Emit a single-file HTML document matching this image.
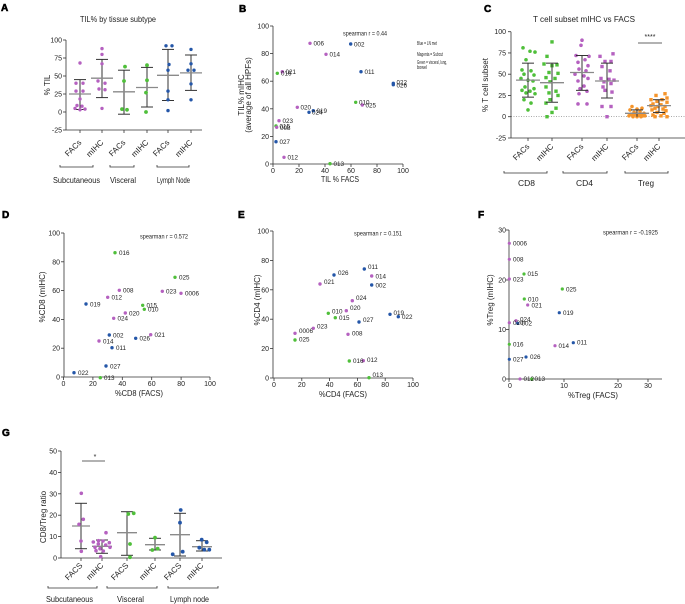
<!DOCTYPE html>
<html><head><meta charset="utf-8">
<style>
html,body{margin:0;padding:0;background:#fff;}
svg{display:block;font-family:"Liberation Sans",Arial,sans-serif;}
.ax{stroke:#333;stroke-width:0.8;fill:none;}
.t{font-size:7px;fill:#222;}
.pl{font-size:6.3px;fill:#222;}
.lt{font-size:8px;fill:#222;}
.pn{font-size:10px;font-weight:bold;fill:#000;stroke:#000;stroke-width:0.6;}
.sd{stroke:#333;stroke-width:1;}
.mn{stroke:#8a8a8a;stroke-width:1.3;}
.m{fill:#b561c0;} .g{fill:#4fbf3a;} .b{fill:#2456a8;} .o{fill:#f5942a;}
</style></head>
<body>
<svg width="685" height="604" viewBox="0 0 685 604" xmlns="http://www.w3.org/2000/svg">
<rect width="685" height="604" fill="#fff"/>

<!-- ================= PANEL A ================= -->
<text class="pn" x="1" y="11">A</text>
<text class="lt" x="80" y="22" textLength="76" lengthAdjust="spacingAndGlyphs">TIL% by tissue subtype</text>
<text class="lt" transform="translate(50,85) rotate(-90)" text-anchor="middle">% TIL</text>
<g class="ax">
<line x1="66" y1="40" x2="66" y2="130"/>
<line x1="66" y1="130" x2="202" y2="130"/>
<line x1="63" y1="40" x2="66" y2="40"/><line x1="63" y1="58" x2="66" y2="58"/><line x1="63" y1="76" x2="66" y2="76"/>
<line x1="63" y1="94" x2="66" y2="94"/><line x1="63" y1="112" x2="66" y2="112"/><line x1="63" y1="130" x2="66" y2="130"/>
<line x1="80" y1="130" x2="80" y2="133"/><line x1="102" y1="130" x2="102" y2="133"/><line x1="124" y1="130" x2="124" y2="133"/>
<line x1="147" y1="130" x2="147" y2="133"/><line x1="168" y1="130" x2="168" y2="133"/><line x1="191" y1="130" x2="191" y2="133"/>
</g>
<g class="t" text-anchor="end">
<text x="62" y="42.5">100</text><text x="62" y="60.5">75</text><text x="62" y="78.5">50</text>
<text x="62" y="96.5">25</text><text x="62" y="114.5">0</text><text x="62" y="132.5">-25</text>
</g>
<g class="lt" text-anchor="end">
<text transform="translate(82,143) rotate(-45)">FACs</text>
<text transform="translate(104,143) rotate(-45)">mIHC</text>
<text transform="translate(126,143) rotate(-45)">FACs</text>
<text transform="translate(149,143) rotate(-45)">mIHC</text>
<text transform="translate(170,143) rotate(-45)">FACs</text>
<text transform="translate(193,143) rotate(-45)">mIHC</text>
</g>
<g class="ax">
<path d="M60,165 V167 H93 V165"/><path d="M110,165 V167 H134 V165"/><path d="M157,165 V167 H189 V165"/>
</g>
<g class="lt">
<text x="53" y="183" textLength="47" lengthAdjust="spacingAndGlyphs">Subcutaneous</text>
<text x="110" y="183" textLength="26" lengthAdjust="spacingAndGlyphs">Visceral</text>
<text x="157" y="183" textLength="33" lengthAdjust="spacingAndGlyphs">Lymph Node</text>
</g>
<!-- A stats -->
<g>
<line class="sd" x1="80" y1="79.6" x2="80" y2="109.5"/><line class="sd" x1="74" y1="79.6" x2="86" y2="79.6"/><line class="sd" x1="74" y1="109.5" x2="86" y2="109.5"/>
<line class="sd" x1="102" y1="59.4" x2="102" y2="97.6"/><line class="sd" x1="96" y1="59.4" x2="108" y2="59.4"/><line class="sd" x1="96" y1="97.6" x2="108" y2="97.6"/>
<line class="sd" x1="124" y1="70.2" x2="124" y2="114.2"/><line class="sd" x1="118" y1="70.2" x2="130" y2="70.2"/><line class="sd" x1="118" y1="114.2" x2="130" y2="114.2"/>
<line class="sd" x1="147" y1="67.4" x2="147" y2="107"/><line class="sd" x1="141" y1="67.4" x2="153" y2="67.4"/><line class="sd" x1="141" y1="107" x2="153" y2="107"/>
<line class="sd" x1="168" y1="49.4" x2="168" y2="100.5"/><line class="sd" x1="162" y1="49.4" x2="174" y2="49.4"/><line class="sd" x1="162" y1="100.5" x2="174" y2="100.5"/>
<line class="sd" x1="191" y1="55" x2="191" y2="90.4"/><line class="sd" x1="185" y1="55" x2="197" y2="55"/><line class="sd" x1="185" y1="90.4" x2="197" y2="90.4"/>
<line class="mn" x1="69" y1="94" x2="91" y2="94"/><line class="mn" x1="91" y1="78.2" x2="113" y2="78.2"/>
<line class="mn" x1="113" y1="91.8" x2="135" y2="91.8"/><line class="mn" x1="136" y1="87.5" x2="158" y2="87.5"/>
<line class="mn" x1="157" y1="75.3" x2="179" y2="75.3"/><line class="mn" x1="180" y1="72.9" x2="202" y2="72.9"/>
</g>
<g class="m">
<circle cx="80" cy="63" r="1.7"/><circle cx="76" cy="83.2" r="1.7"/><circle cx="83" cy="83.2" r="1.7"/><circle cx="76" cy="91.1" r="1.7"/><circle cx="83" cy="91.1" r="1.7"/><circle cx="80" cy="99" r="1.7"/><circle cx="77" cy="105.5" r="1.7"/><circle cx="82" cy="106.2" r="1.7"/><circle cx="75" cy="108.4" r="1.7"/><circle cx="85" cy="109.1" r="1.7"/><circle cx="80" cy="109.8" r="1.7"/>
<circle cx="102" cy="48.6" r="1.7"/><circle cx="102" cy="54.4" r="1.7"/><circle cx="102" cy="63.8" r="1.7"/><circle cx="98" cy="81" r="1.7"/><circle cx="105" cy="83.2" r="1.7"/><circle cx="99" cy="89" r="1.7"/><circle cx="105" cy="89.7" r="1.7"/><circle cx="102" cy="108.4" r="1.7"/>
</g>
<g class="g">
<circle cx="125" cy="66.6" r="1.9"/><circle cx="124" cy="81" r="1.9"/><circle cx="122" cy="109.1" r="1.9"/><circle cx="127" cy="109.8" r="1.9"/>
<circle cx="147" cy="65.2" r="1.9"/><circle cx="147" cy="80.3" r="1.9"/><circle cx="146" cy="92.6" r="1.9"/><circle cx="146" cy="112" r="1.9"/>
</g>
<g class="b">
<circle cx="166" cy="45.8" r="1.7"/><circle cx="172" cy="45.8" r="1.7"/><circle cx="169" cy="64.5" r="1.7"/><circle cx="168" cy="70.2" r="1.7"/><circle cx="168" cy="91.1" r="1.7"/><circle cx="168" cy="99.8" r="1.7"/><circle cx="168" cy="110.6" r="1.7"/>
<circle cx="191" cy="49.4" r="1.7"/><circle cx="191" cy="63.8" r="1.7"/><circle cx="188" cy="70.2" r="1.7"/><circle cx="194" cy="70.2" r="1.7"/><circle cx="191" cy="83.9" r="1.7"/><circle cx="191" cy="99.8" r="1.7"/>
</g>

<!-- ================= PANEL B ================= -->
<text class="pn" x="239" y="12">B</text>
<text class="lt" transform="translate(244,95) rotate(-90)" text-anchor="middle">TIL% mIHC</text>
<text class="lt" transform="translate(251,95) rotate(-90)" text-anchor="middle">(average of all HPFs)</text>
<g class="ax">
<line x1="273" y1="26" x2="273" y2="164"/><line x1="273" y1="164" x2="403" y2="164"/>
<line x1="270" y1="26" x2="273" y2="26"/><line x1="270" y1="53.6" x2="273" y2="53.6"/><line x1="270" y1="81.2" x2="273" y2="81.2"/><line x1="270" y1="108.8" x2="273" y2="108.8"/><line x1="270" y1="136.4" x2="273" y2="136.4"/><line x1="270" y1="164" x2="273" y2="164"/>
<line x1="273" y1="164" x2="273" y2="167"/><line x1="299" y1="164" x2="299" y2="167"/><line x1="325" y1="164" x2="325" y2="167"/><line x1="351" y1="164" x2="351" y2="167"/><line x1="377" y1="164" x2="377" y2="167"/><line x1="403" y1="164" x2="403" y2="167"/>
</g>
<g class="t" text-anchor="end">
<text x="269" y="28.5">100</text><text x="269" y="56">80</text><text x="269" y="83.7">60</text><text x="269" y="111.3">40</text><text x="269" y="139">20</text><text x="269" y="166.5">0</text>
</g>
<g class="t" text-anchor="middle">
<text x="273" y="173">0</text><text x="299" y="173">20</text><text x="325" y="173">40</text><text x="351" y="173">60</text><text x="377" y="173">80</text><text x="403" y="173">100</text>
</g>
<text class="lt" x="321" y="182" textLength="38" lengthAdjust="spacingAndGlyphs">TIL % FACS</text>
<text class="pl" x="343" y="35.5" textLength="44" lengthAdjust="spacingAndGlyphs">spearman r = 0.44</text>
<g style="font-size:5.5px;fill:#222">
<text x="417" y="45" textLength="20" lengthAdjust="spacingAndGlyphs">Blue = LN met</text>
<text x="417" y="56" textLength="26" lengthAdjust="spacingAndGlyphs">Magenta = Subcut</text>
<text x="417" y="64" textLength="30" lengthAdjust="spacingAndGlyphs">Green = visceral, lung,</text>
<text x="417" y="69" textLength="10" lengthAdjust="spacingAndGlyphs">bowel</text>
</g>
<g>
<circle class="m" cx="310" cy="43.3" r="1.7"/><circle class="b" cx="350.7" cy="44" r="1.7"/><circle class="m" cx="326" cy="54.3" r="1.7"/>
<circle class="g" cx="277.3" cy="73.3" r="1.7"/><circle class="m" cx="282.3" cy="71.7" r="1.7"/><circle class="b" cx="361" cy="71.7" r="1.7"/>
<circle class="b" cx="393.3" cy="83.3" r="1.7"/><circle class="b" cx="393.3" cy="84.7" r="1.7"/>
<circle class="g" cx="355.7" cy="102.3" r="1.7"/><circle class="m" cx="362.3" cy="105" r="1.7"/><circle class="m" cx="297.3" cy="107.3" r="1.7"/>
<circle class="b" cx="313.3" cy="110.7" r="1.7"/><circle class="b" cx="309" cy="112.3" r="1.7"/>
<circle class="m" cx="279" cy="120.7" r="1.7"/><circle class="g" cx="276" cy="126" r="1.7"/><circle class="m" cx="276.7" cy="127.3" r="1.7"/>
<circle class="b" cx="276" cy="141.7" r="1.7"/><circle class="m" cx="284" cy="157.3" r="1.7"/><circle class="g" cx="330" cy="163.7" r="1.7"/>
</g>
<g class="pl">
<text x="313.5" y="45.5">006</text><text x="354" y="46.3">002</text><text x="329.5" y="56.6">014</text>
<text x="281" y="75.6">016</text><text x="285.5" y="74">021</text><text x="364.5" y="74">011</text>
<text x="396.5" y="84.5">022</text><text x="396.5" y="87.5">026</text>
<text x="359" y="104.6">010</text><text x="365.5" y="107.3">025</text><text x="300.5" y="109.6">020</text>
<text x="316.5" y="113">019</text><text x="312" y="114.6">024</text>
<text x="282.5" y="123">023</text><text x="279.5" y="128.3">015</text><text x="280" y="130">008</text>
<text x="279.5" y="144">027</text><text x="287.5" y="159.6">012</text><text x="333.5" y="166">013</text>
</g>

<!-- ================= PANEL C ================= -->
<text class="pn" x="484" y="12">C</text>
<text class="lt" x="533" y="22" textLength="102" lengthAdjust="spacingAndGlyphs">T cell subset mIHC vs FACS</text>
<text class="lt" transform="translate(488,85) rotate(-90)" text-anchor="middle">% T cell subset</text>
<line x1="511" y1="116.7" x2="685" y2="116.7" stroke="#777" stroke-width="0.6" stroke-dasharray="1,1.5"/>
<g class="ax">
<line x1="511" y1="31.7" x2="511" y2="138"/><line x1="511" y1="138" x2="685" y2="138"/>
<line x1="508" y1="31.7" x2="511" y2="31.7"/><line x1="508" y1="52.95" x2="511" y2="52.95"/><line x1="508" y1="74.2" x2="511" y2="74.2"/><line x1="508" y1="95.45" x2="511" y2="95.45"/><line x1="508" y1="116.7" x2="511" y2="116.7"/><line x1="508" y1="138" x2="511" y2="138"/>
<line x1="528" y1="138" x2="528" y2="141"/><line x1="552" y1="138" x2="552" y2="141"/><line x1="582" y1="138" x2="582" y2="141"/><line x1="607" y1="138" x2="607" y2="141"/><line x1="637" y1="138" x2="637" y2="141"/><line x1="659" y1="138" x2="659" y2="141"/>
</g>
<g class="t" text-anchor="end">
<text x="506" y="34.2">100</text><text x="506" y="55.5">75</text><text x="506" y="76.7">50</text><text x="506" y="98">25</text><text x="506" y="119.2">0</text><text x="506" y="140.5">-25</text>
</g>
<g class="lt" text-anchor="end">
<text transform="translate(530,147) rotate(-45)">FACs</text>
<text transform="translate(554,147) rotate(-45)">mIHC</text>
<text transform="translate(584,147) rotate(-45)">FACs</text>
<text transform="translate(609,147) rotate(-45)">mIHC</text>
<text transform="translate(639,147) rotate(-45)">FACs</text>
<text transform="translate(661,147) rotate(-45)">mIHC</text>
</g>
<g class="ax">
<path d="M504,171 V173 H547 V171"/><path d="M563,171 V173 H607 V171"/><path d="M625,171 V173 H668 V171"/>
<line x1="638" y1="43" x2="662" y2="43"/>
</g>
<text class="t" x="650" y="39" text-anchor="middle">****</text>
<g class="lt" style="font-size:8.5px">
<text x="518" y="186" textLength="17" lengthAdjust="spacingAndGlyphs">CD8</text>
<text x="576" y="186" textLength="17" lengthAdjust="spacingAndGlyphs">CD4</text>
<text x="638" y="186" textLength="16" lengthAdjust="spacingAndGlyphs">Treg</text>
</g>
<!-- C points -->
<g class="g">
<circle cx="523" cy="47.85" r="1.8"/><circle cx="530" cy="51.25" r="1.8"/><circle cx="535" cy="52.1" r="1.8"/><circle cx="526" cy="59.75" r="1.8"/><circle cx="522" cy="69.95" r="1.8"/><circle cx="531" cy="70.8" r="1.8"/><circle cx="524" cy="74.2" r="1.8"/><circle cx="534" cy="75.05" r="1.8"/><circle cx="521" cy="78.45" r="1.8"/><circle cx="528" cy="80.15" r="1.8"/><circle cx="533" cy="81" r="1.8"/><circle cx="525" cy="86.95" r="1.8"/><circle cx="534" cy="88.65" r="1.8"/><circle cx="522" cy="90.35" r="1.8"/><circle cx="530" cy="91.2" r="1.8"/><circle cx="526" cy="92.9" r="1.8"/><circle cx="535" cy="93.75" r="1.8"/><circle cx="524" cy="99.7" r="1.8"/><circle cx="531" cy="103.1" r="1.8"/><circle cx="528" cy="109.9" r="1.8"/>
</g>
<g class="g">
<rect x="550.3" y="40.2" width="3.4" height="3.4"/><rect x="545.3" y="54.65" width="3.4" height="3.4"/><rect x="542.3" y="62.3" width="3.4" height="3.4"/><rect x="555.3" y="63.15" width="3.4" height="3.4"/><rect x="550.3" y="64" width="3.4" height="3.4"/><rect x="547.3" y="70.8" width="3.4" height="3.4"/><rect x="556.3" y="71.65" width="3.4" height="3.4"/><rect x="544.3" y="75.9" width="3.4" height="3.4"/><rect x="553.3" y="76.75" width="3.4" height="3.4"/><rect x="548.3" y="80.15" width="3.4" height="3.4"/><rect x="544.3" y="85.25" width="3.4" height="3.4"/><rect x="554.3" y="89.5" width="3.4" height="3.4"/><rect x="547.3" y="91.2" width="3.4" height="3.4"/><rect x="556.3" y="93.75" width="3.4" height="3.4"/><rect x="548.3" y="98" width="3.4" height="3.4"/><rect x="544.3" y="101.4" width="3.4" height="3.4"/><rect x="554.3" y="106.5" width="3.4" height="3.4"/><rect x="550.3" y="110.75" width="3.4" height="3.4"/><rect x="545.3" y="115" width="3.4" height="3.4"/>
</g>
<g class="m">
<circle cx="582" cy="40.2" r="1.8"/><circle cx="581" cy="45.3" r="1.8"/><circle cx="576" cy="55.5" r="1.8"/><circle cx="589" cy="56.35" r="1.8"/><circle cx="585" cy="59.75" r="1.8"/><circle cx="578" cy="62.3" r="1.8"/><circle cx="588" cy="65.7" r="1.8"/><circle cx="579" cy="69.1" r="1.8"/><circle cx="586" cy="70.8" r="1.8"/><circle cx="575" cy="74.2" r="1.8"/><circle cx="584" cy="75.9" r="1.8"/><circle cx="588" cy="78.45" r="1.8"/><circle cx="578" cy="81" r="1.8"/><circle cx="584" cy="86.1" r="1.8"/><circle cx="580" cy="88.65" r="1.8"/><circle cx="587" cy="91.2" r="1.8"/><circle cx="579" cy="93.75" r="1.8"/><circle cx="578" cy="103.95" r="1.8"/><circle cx="587" cy="103.95" r="1.8"/>
</g>
<g class="m">
<rect x="611.3" y="52.1" width="3.4" height="3.4"/><rect x="598.3" y="54.65" width="3.4" height="3.4"/><rect x="603.3" y="59.75" width="3.4" height="3.4"/><rect x="609.3" y="59.75" width="3.4" height="3.4"/><rect x="600.3" y="64.85" width="3.4" height="3.4"/><rect x="608.3" y="69.1" width="3.4" height="3.4"/><rect x="599.3" y="76.75" width="3.4" height="3.4"/><rect x="607.3" y="77.6" width="3.4" height="3.4"/><rect x="612.3" y="78.45" width="3.4" height="3.4"/><rect x="602.3" y="80.15" width="3.4" height="3.4"/><rect x="609.3" y="81.85" width="3.4" height="3.4"/><rect x="601.3" y="85.25" width="3.4" height="3.4"/><rect x="603.3" y="88.65" width="3.4" height="3.4"/><rect x="610.3" y="90.35" width="3.4" height="3.4"/><rect x="600.3" y="104.8" width="3.4" height="3.4"/><rect x="609.3" y="104.8" width="3.4" height="3.4"/><rect x="605.3" y="115" width="3.4" height="3.4"/>
</g>
<g class="o">
<circle cx="632" cy="106.5" r="1.8"/><circle cx="642" cy="108.2" r="1.8"/><circle cx="637" cy="109.05" r="1.8"/><circle cx="630" cy="109.9" r="1.8"/><circle cx="640" cy="111.6" r="1.8"/><circle cx="634" cy="112.45" r="1.8"/><circle cx="644" cy="113.3" r="1.8"/><circle cx="636" cy="113.3" r="1.8"/><circle cx="641" cy="114.15" r="1.8"/><circle cx="631" cy="114.15" r="1.8"/><circle cx="638" cy="115" r="1.8"/><circle cx="634" cy="115" r="1.8"/><circle cx="643" cy="115.85" r="1.8"/><circle cx="629" cy="115.85" r="1.8"/><circle cx="637" cy="116.7" r="1.8"/><circle cx="633" cy="116.7" r="1.8"/><circle cx="641" cy="116.7" r="1.8"/><circle cx="645" cy="115.85" r="1.8"/>
</g>
<g class="o">
<rect x="663.3" y="92.05" width="3.4" height="3.4"/><rect x="654.3" y="93.75" width="3.4" height="3.4"/><rect x="665.3" y="96.3" width="3.4" height="3.4"/><rect x="649.3" y="98" width="3.4" height="3.4"/><rect x="660.3" y="98" width="3.4" height="3.4"/><rect x="655.3" y="99.7" width="3.4" height="3.4"/><rect x="665.3" y="100.55" width="3.4" height="3.4"/><rect x="651.3" y="102.25" width="3.4" height="3.4"/><rect x="659.3" y="103.1" width="3.4" height="3.4"/><rect x="649.3" y="103.95" width="3.4" height="3.4"/><rect x="663.3" y="104.8" width="3.4" height="3.4"/><rect x="656.3" y="104.8" width="3.4" height="3.4"/><rect x="653.3" y="106.5" width="3.4" height="3.4"/><rect x="661.3" y="107.35" width="3.4" height="3.4"/><rect x="650.3" y="108.2" width="3.4" height="3.4"/><rect x="664.3" y="109.05" width="3.4" height="3.4"/><rect x="655.3" y="110.75" width="3.4" height="3.4"/><rect x="662.3" y="111.6" width="3.4" height="3.4"/><rect x="651.3" y="113.3" width="3.4" height="3.4"/><rect x="659.3" y="114.15" width="3.4" height="3.4"/><rect x="665.3" y="115" width="3.4" height="3.4"/><rect x="653.3" y="115" width="3.4" height="3.4"/>
</g>
<!-- C stats -->
<g>
<line class="sd" x1="528" y1="63.15" x2="528" y2="97.15"/><line class="sd" x1="522" y1="63.15" x2="534" y2="63.15"/><line class="sd" x1="522" y1="97.15" x2="534" y2="97.15"/>
<line class="sd" x1="552" y1="63.15" x2="552" y2="102.25"/><line class="sd" x1="546" y1="63.15" x2="558" y2="63.15"/><line class="sd" x1="546" y1="102.25" x2="558" y2="102.25"/>
<line class="sd" x1="582" y1="55.5" x2="582" y2="90.35"/><line class="sd" x1="576" y1="55.5" x2="588" y2="55.5"/><line class="sd" x1="576" y1="90.35" x2="588" y2="90.35"/>
<line class="sd" x1="607" y1="63.15" x2="607" y2="98"/><line class="sd" x1="601" y1="63.15" x2="613" y2="63.15"/><line class="sd" x1="601" y1="98" x2="613" y2="98"/>
<line class="sd" x1="637" y1="109.9" x2="637" y2="116.7"/><line class="sd" x1="631" y1="109.9" x2="643" y2="109.9"/>
<line class="sd" x1="659" y1="99.7" x2="659" y2="112.45"/><line class="sd" x1="653" y1="99.7" x2="665" y2="99.7"/><line class="sd" x1="653" y1="112.45" x2="665" y2="112.45"/>
<line class="mn" x1="516" y1="80.15" x2="540" y2="80.15"/><line class="mn" x1="540" y1="82.7" x2="564" y2="82.7"/>
<line class="mn" x1="570" y1="72.5" x2="594" y2="72.5"/><line class="mn" x1="595" y1="81" x2="619" y2="81"/>
<line class="mn" x1="625" y1="113.3" x2="649" y2="113.3"/><line class="mn" x1="647" y1="105.65" x2="671" y2="105.65"/>
</g>

<!-- ================= PANEL D ================= -->
<text class="pn" x="2" y="218">D</text>
<text class="lt" transform="translate(45,297) rotate(-90)" text-anchor="middle">%CD8 (mIHC)</text>
<g class="ax">
<line x1="64" y1="233" x2="64" y2="377"/><line x1="64" y1="377" x2="210" y2="377"/>
<line x1="61" y1="233" x2="64" y2="233"/><line x1="61" y1="261.8" x2="64" y2="261.8"/><line x1="61" y1="290.6" x2="64" y2="290.6"/><line x1="61" y1="319.4" x2="64" y2="319.4"/><line x1="61" y1="348.2" x2="64" y2="348.2"/><line x1="61" y1="377" x2="64" y2="377"/>
<line x1="63.5" y1="377" x2="63.5" y2="380"/><line x1="92.9" y1="377" x2="92.9" y2="380"/><line x1="122.3" y1="377" x2="122.3" y2="380"/><line x1="151.7" y1="377" x2="151.7" y2="380"/><line x1="181.1" y1="377" x2="181.1" y2="380"/><line x1="210" y1="377" x2="210" y2="380"/>
</g>
<g class="t" text-anchor="end">
<text x="60" y="235.5">100</text><text x="60" y="264.3">80</text><text x="60" y="293.1">60</text><text x="60" y="321.9">40</text><text x="60" y="350.7">20</text><text x="60" y="379.5">0</text>
</g>
<g class="t" text-anchor="middle">
<text x="63.5" y="386">0</text><text x="92.9" y="386">20</text><text x="122.3" y="386">40</text><text x="151.7" y="386">60</text><text x="181.1" y="386">80</text><text x="210" y="386">100</text>
</g>
<text class="lt" x="115" y="396" textLength="48" lengthAdjust="spacingAndGlyphs">%CD8 (FACS)</text>
<text class="pl" x="140" y="238.5" textLength="48" lengthAdjust="spacingAndGlyphs">spearman r = 0.572</text>
<g>
<circle class="g" cx="115" cy="252.7" r="1.7"/><circle class="g" cx="175" cy="277.3" r="1.7"/><circle class="m" cx="119.3" cy="290.3" r="1.7"/>
<circle class="m" cx="162.3" cy="291.3" r="1.7"/><circle class="m" cx="181" cy="293.3" r="1.7"/><circle class="m" cx="107.7" cy="297.3" r="1.7"/>
<circle class="b" cx="86" cy="304" r="1.7"/><circle class="g" cx="142.7" cy="305.3" r="1.7"/><circle class="g" cx="144.3" cy="309.3" r="1.7"/>
<circle class="m" cx="125.3" cy="313" r="1.7"/><circle class="m" cx="113.7" cy="318.3" r="1.7"/><circle class="b" cx="109.3" cy="335" r="1.7"/>
<circle class="m" cx="150.7" cy="334.7" r="1.7"/><circle class="b" cx="135.7" cy="338.3" r="1.7"/><circle class="m" cx="99" cy="341" r="1.7"/>
<circle class="b" cx="112" cy="347.7" r="1.7"/><circle class="b" cx="106" cy="366" r="1.7"/><circle class="b" cx="74" cy="372.7" r="1.7"/><circle class="g" cx="100.3" cy="377.7" r="1.7"/>
</g>
<g class="pl">
<text x="119" y="255">016</text><text x="179" y="279.6">025</text><text x="123" y="292.6">008</text>
<text x="166" y="293.6">023</text><text x="185" y="295.6">0006</text><text x="111.5" y="299.6">012</text>
<text x="90" y="306.3">019</text><text x="146.5" y="307.6">015</text><text x="148" y="311.6">010</text>
<text x="129" y="315.3">020</text><text x="117.5" y="320.6">024</text><text x="113" y="337.3">002</text>
<text x="154.5" y="337">021</text><text x="139.5" y="340.6">026</text><text x="103" y="343.3">014</text>
<text x="116" y="350">011</text><text x="110" y="368.3">027</text><text x="78" y="375">022</text><text x="104" y="380">013</text>
</g>

<!-- ================= PANEL E ================= -->
<text class="pn" x="238" y="218">E</text>
<text class="lt" transform="translate(260,300) rotate(-90)" text-anchor="middle">%CD4 (mIHC)</text>
<g class="ax">
<line x1="273" y1="231" x2="273" y2="378"/><line x1="273" y1="378" x2="413" y2="378"/>
<line x1="270" y1="231" x2="273" y2="231"/><line x1="270" y1="260.4" x2="273" y2="260.4"/><line x1="270" y1="289.8" x2="273" y2="289.8"/><line x1="270" y1="319.2" x2="273" y2="319.2"/><line x1="270" y1="348.6" x2="273" y2="348.6"/><line x1="270" y1="378" x2="273" y2="378"/>
<line x1="274" y1="378" x2="274" y2="381"/><line x1="301.8" y1="378" x2="301.8" y2="381"/><line x1="329.6" y1="378" x2="329.6" y2="381"/><line x1="357.4" y1="378" x2="357.4" y2="381"/><line x1="385.2" y1="378" x2="385.2" y2="381"/><line x1="413" y1="378" x2="413" y2="381"/>
</g>
<g class="t" text-anchor="end">
<text x="269" y="233.5">100</text><text x="269" y="262.9">80</text><text x="269" y="292.3">60</text><text x="269" y="321.7">40</text><text x="269" y="351.1">20</text><text x="269" y="380.5">0</text>
</g>
<g class="t" text-anchor="middle">
<text x="274" y="387">0</text><text x="301.8" y="387">20</text><text x="329.6" y="387">40</text><text x="357.4" y="387">60</text><text x="385.2" y="387">80</text><text x="413" y="387">100</text>
</g>
<text class="lt" x="319" y="397" textLength="48" lengthAdjust="spacingAndGlyphs">%CD4 (FACS)</text>
<text class="pl" x="354" y="235.5" textLength="48" lengthAdjust="spacingAndGlyphs">spearman r = 0.151</text>
<g>
<circle class="b" cx="364.3" cy="269" r="1.7"/><circle class="m" cx="371.7" cy="276" r="1.7"/><circle class="b" cx="334" cy="275" r="1.7"/>
<circle class="b" cx="371.7" cy="285" r="1.7"/><circle class="m" cx="320" cy="284" r="1.7"/><circle class="m" cx="352.3" cy="300.7" r="1.7"/>
<circle class="m" cx="346.3" cy="310.7" r="1.7"/><circle class="g" cx="328.3" cy="313.3" r="1.7"/><circle class="g" cx="335.3" cy="317.7" r="1.7"/>
<circle class="b" cx="390" cy="314.3" r="1.7"/><circle class="b" cx="398.3" cy="316.7" r="1.7"/><circle class="b" cx="359" cy="322" r="1.7"/>
<circle class="m" cx="313.3" cy="328.3" r="1.7"/><circle class="m" cx="295" cy="333.3" r="1.7"/><circle class="m" cx="348" cy="334.3" r="1.7"/>
<circle class="g" cx="295" cy="340" r="1.7"/><circle class="g" cx="349.3" cy="361" r="1.7"/><circle class="m" cx="363.3" cy="360.7" r="1.7"/><circle class="g" cx="369" cy="377.7" r="1.7"/>
</g>
<g class="pl">
<text x="368" y="269">011</text><text x="375.5" y="278.3">014</text><text x="338" y="275">026</text>
<text x="375.5" y="287.3">002</text><text x="324" y="284">021</text><text x="356" y="300">024</text>
<text x="350" y="310">020</text><text x="332" y="313.6">010</text><text x="339" y="320">015</text>
<text x="393.5" y="315">019</text><text x="402" y="319">022</text><text x="363" y="322">027</text>
<text x="317" y="328.5">023</text><text x="299" y="333">0006</text><text x="352" y="335.5">008</text>
<text x="299" y="341.5">025</text><text x="353" y="363">016</text><text x="367" y="362">012</text><text x="372.5" y="377">013</text>
</g>

<!-- ================= PANEL F ================= -->
<text class="pn" x="478" y="218">F</text>
<text class="lt" transform="translate(493,300) rotate(-90)" text-anchor="middle">%Treg (mIHC)</text>
<g class="ax">
<line x1="509" y1="230" x2="509" y2="379"/><line x1="509" y1="379" x2="662" y2="379"/>
<line x1="506" y1="230" x2="509" y2="230"/><line x1="506" y1="280" x2="509" y2="280"/><line x1="506" y1="329.5" x2="509" y2="329.5"/><line x1="506" y1="379" x2="509" y2="379"/>
<line x1="509" y1="379" x2="509" y2="382"/><line x1="564" y1="379" x2="564" y2="382"/><line x1="618" y1="379" x2="618" y2="382"/><line x1="648" y1="379" x2="648" y2="382"/>
</g>
<g class="t" text-anchor="end">
<text x="506" y="232.5">30</text><text x="506" y="282.5">20</text><text x="506" y="332">10</text><text x="506" y="381.5">0</text>
</g>
<g class="t" text-anchor="middle">
<text x="510" y="388">0</text><text x="564" y="388">10</text><text x="618" y="388">20</text><text x="648" y="388">30</text>
</g>
<text class="lt" x="568" y="398" textLength="50" lengthAdjust="spacingAndGlyphs">%Treg (FACS)</text>
<text class="pl" x="603" y="234.5" textLength="55" lengthAdjust="spacingAndGlyphs">spearman r = -0.1925</text>
<g>
<circle class="m" cx="509.3" cy="243.3" r="1.6"/><circle class="m" cx="509.3" cy="259.3" r="1.6"/><circle class="m" cx="509.3" cy="279" r="1.6"/>
<circle class="g" cx="524" cy="274" r="1.6"/><circle class="g" cx="562.3" cy="289" r="1.6"/><circle class="g" cx="524.3" cy="299" r="1.6"/>
<circle class="m" cx="527.7" cy="305" r="1.6"/><circle class="b" cx="559.3" cy="312.7" r="1.6"/>
<circle class="m" cx="509.3" cy="322.7" r="1.6"/><circle class="m" cx="516" cy="320.7" r="1.6"/><circle class="b" cx="517.7" cy="323.3" r="1.6"/>
<circle class="g" cx="509.3" cy="344.3" r="1.6"/><circle class="m" cx="555" cy="345.7" r="1.6"/><circle class="b" cx="573.3" cy="342.7" r="1.6"/>
<circle class="b" cx="509.3" cy="359.3" r="1.6"/><circle class="b" cx="526" cy="357" r="1.6"/><circle class="m" cx="520" cy="379" r="1.6"/><circle class="g" cx="531.7" cy="379" r="1.6"/>
</g>
<g class="pl">
<text x="513" y="245.6">0006</text><text x="513" y="261.6">008</text><text x="513" y="281.3">023</text>
<text x="527.5" y="276">015</text><text x="566" y="291.3">025</text><text x="528" y="301.3">010</text>
<text x="531.5" y="307.3">021</text><text x="563" y="315">019</text>
<text x="513" y="325">020</text><text x="520" y="321.5">024</text><text x="521.5" y="325.6">002</text>
<text x="513" y="346.6">016</text><text x="558.5" y="348">014</text><text x="577" y="344.5">011</text>
<text x="513" y="361.6">027</text><text x="530" y="359">026</text><text x="523.5" y="381">012</text><text x="534.5" y="381">013</text>
</g>

<!-- ================= PANEL G ================= -->
<text class="pn" x="2" y="436">G</text>
<text class="lt" transform="translate(46,517) rotate(-90)" text-anchor="middle">CD8/Treg ratio</text>
<g class="ax">
<line x1="61" y1="451" x2="61" y2="558"/><line x1="61" y1="558" x2="222" y2="558"/>
<line x1="58" y1="451" x2="61" y2="451"/><line x1="58" y1="472.4" x2="61" y2="472.4"/><line x1="58" y1="493.8" x2="61" y2="493.8"/><line x1="58" y1="515.2" x2="61" y2="515.2"/><line x1="58" y1="536.6" x2="61" y2="536.6"/><line x1="58" y1="558" x2="61" y2="558"/>
<line x1="81" y1="558" x2="81" y2="561"/><line x1="102" y1="558" x2="102" y2="561"/><line x1="127" y1="558" x2="127" y2="561"/><line x1="155" y1="558" x2="155" y2="561"/><line x1="180" y1="558" x2="180" y2="561"/><line x1="202" y1="558" x2="202" y2="561"/>
<line x1="82" y1="461" x2="105" y2="461"/>
</g>
<text class="t" x="95" y="459" text-anchor="middle">*</text>
<g class="t" text-anchor="end">
<text x="57" y="453.5">50</text><text x="57" y="474.9">40</text><text x="57" y="496.3">30</text><text x="57" y="517.7">20</text><text x="57" y="539.1">10</text><text x="57" y="560.5">0</text>
</g>
<g class="lt" text-anchor="end">
<text transform="translate(83,566) rotate(-45)">FACS</text>
<text transform="translate(104,566) rotate(-45)">mIHC</text>
<text transform="translate(129,566) rotate(-45)">FACS</text>
<text transform="translate(157,566) rotate(-45)">mIHC</text>
<text transform="translate(182,566) rotate(-45)">FACS</text>
<text transform="translate(204,566) rotate(-45)">mIHC</text>
</g>
<g class="ax">
<path d="M48,586 V588 H97 V586"/><path d="M107,586 V588 H157 V586"/><path d="M168,586 V588 H218 V586"/>
</g>
<g class="lt">
<text x="46" y="602" textLength="47" lengthAdjust="spacingAndGlyphs">Subcutaneous</text>
<text x="117" y="602" textLength="27" lengthAdjust="spacingAndGlyphs">Visceral</text>
<text x="170" y="602" textLength="39" lengthAdjust="spacingAndGlyphs">Lymph node</text>
</g>
<!-- G stats -->
<g>
<line class="sd" x1="81" y1="503.3" x2="81" y2="548.7"/><line class="sd" x1="75" y1="503.3" x2="87" y2="503.3"/><line class="sd" x1="75" y1="548.7" x2="87" y2="548.7"/>
<line class="sd" x1="102" y1="540" x2="102" y2="553.3"/><line class="sd" x1="96" y1="540" x2="108" y2="540"/><line class="sd" x1="96" y1="553.3" x2="108" y2="553.3"/>
<line class="sd" x1="127" y1="511.7" x2="127" y2="555.3"/><line class="sd" x1="121" y1="511.7" x2="133" y2="511.7"/><line class="sd" x1="121" y1="555.3" x2="133" y2="555.3"/>
<line class="sd" x1="155" y1="538.3" x2="155" y2="550"/><line class="sd" x1="149" y1="538.3" x2="161" y2="538.3"/><line class="sd" x1="149" y1="550" x2="161" y2="550"/>
<line class="sd" x1="180" y1="513.3" x2="180" y2="556"/><line class="sd" x1="174" y1="513.3" x2="186" y2="513.3"/><line class="sd" x1="174" y1="556" x2="186" y2="556"/>
<line class="sd" x1="202" y1="540.7" x2="202" y2="551"/><line class="sd" x1="196" y1="540.7" x2="208" y2="540.7"/><line class="sd" x1="196" y1="551" x2="208" y2="551"/>
<line class="mn" x1="72" y1="526" x2="90" y2="526"/><line class="mn" x1="92" y1="546.3" x2="112" y2="546.3"/>
<line class="mn" x1="117" y1="532.7" x2="137" y2="532.7"/><line class="mn" x1="145" y1="544.7" x2="165" y2="544.7"/>
<line class="mn" x1="170" y1="534.7" x2="190" y2="534.7"/><line class="mn" x1="192" y1="546.7" x2="212" y2="546.7"/>
</g>
<g class="m">
<circle cx="81.3" cy="493.3" r="1.8"/><circle cx="83.3" cy="519.3" r="1.8"/><circle cx="79" cy="524.3" r="1.8"/><circle cx="81" cy="541" r="1.8"/><circle cx="81.3" cy="551.3" r="1.8"/>
<circle cx="106" cy="532.7" r="1.8"/><circle cx="98.5" cy="540.7" r="1.8"/><circle cx="103" cy="541" r="1.8"/><circle cx="93.3" cy="542" r="1.8"/><circle cx="109.3" cy="542.7" r="1.8"/><circle cx="98.3" cy="544" r="1.8"/><circle cx="105.7" cy="545" r="1.8"/><circle cx="95" cy="547.3" r="1.8"/><circle cx="110" cy="547.3" r="1.8"/><circle cx="100" cy="548.7" r="1.8"/><circle cx="103.3" cy="551" r="1.8"/><circle cx="96" cy="550.7" r="1.8"/><circle cx="100.7" cy="556.7" r="1.8"/>
</g>
<g class="g">
<circle cx="128.3" cy="514" r="1.9"/><circle cx="133.7" cy="513.3" r="1.9"/><circle cx="130" cy="544" r="1.9"/><circle cx="130" cy="557.3" r="1.9"/>
<circle cx="155" cy="537.7" r="1.9"/><circle cx="152.3" cy="550" r="1.9"/><circle cx="157.7" cy="548.7" r="1.9"/>
</g>
<g class="b">
<circle cx="180.7" cy="510" r="1.9"/><circle cx="180" cy="522.7" r="1.9"/><circle cx="172.7" cy="554.3" r="1.9"/><circle cx="182.7" cy="551.7" r="1.9"/>
<circle cx="201.7" cy="539.7" r="1.9"/><circle cx="206.7" cy="542.3" r="1.9"/><circle cx="199.3" cy="547.7" r="1.9"/><circle cx="204.3" cy="549.7" r="1.9"/><circle cx="209.3" cy="549.7" r="1.9"/>
</g>
</svg>
</body></html>
